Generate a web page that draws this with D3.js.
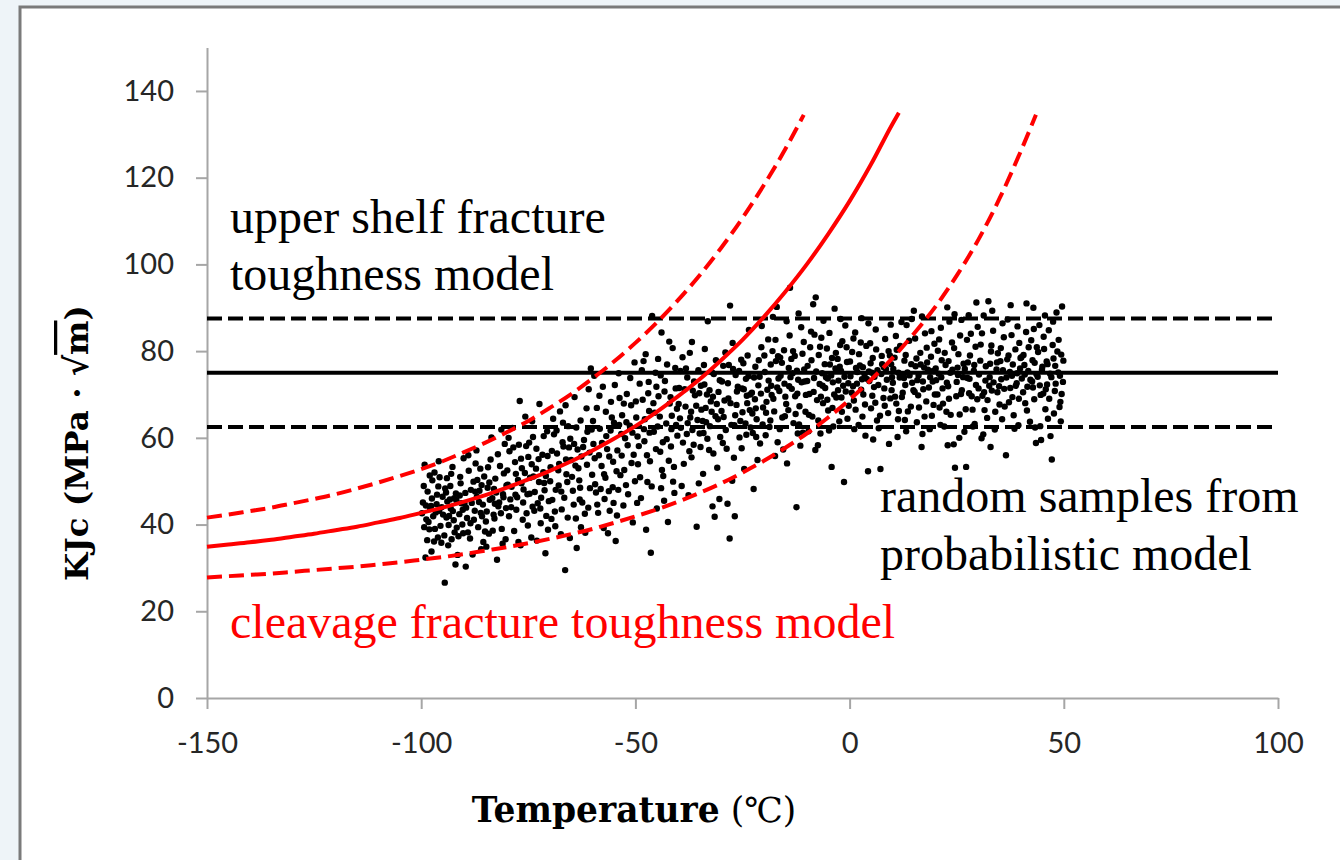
<!DOCTYPE html>
<html>
<head>
<meta charset="utf-8">
<script src="https://cdn.jsdelivr.net/npm/d3@7"></script>
<style>
  html, body { margin: 0; padding: 0; background: #eef4f8; }
  svg { display: block; }
</style>
</head>
<body>
<svg id="chart" width="1340" height="860"></svg>
<script>
// Axis ticks
const tempTicks = [-150, -100, -50, 0, 50, 100];
const kTicks = [0, 20, 40, 60, 80, 100, 120, 140];

// Upper shelf model: median and bounds (MPa·√m)
const shelfMedian = 75;
const shelfUpper = 87.5;
const shelfLower = 62.5;

// Cleavage (master curve) model: median, 95% and 5% bounds, [T, K]
const cleavageMedian = [
  [-150,34.9],[-145,35.4],[-140,35.9],[-135,36.5],[-130,37.2],[-125,37.9],[-120,38.7],[-115,39.5],
  [-110,40.5],[-105,41.5],[-100,42.7],[-95,43.9],[-90,45.3],[-85,46.8],[-80,48.5],[-75,50.4],
  [-70,52.4],[-65,54.6],[-60,57.1],[-55,59.8],[-50,62.7],[-45,66.0],[-40,69.6],[-35,73.5],
  [-30,77.9],[-25,82.6],[-20,87.9],[-15,93.7],[-10,100.0],[-5,107.0],[0,114.6],[5,123.1],
  [10,132.4],[11.5,135.0]
];
const cleavageUpper = [
  [-150,41.6],[-145,42.3],[-140,43.1],[-135,43.9],[-130,44.9],[-125,45.9],[-120,47.0],[-115,48.3],
  [-110,49.7],[-105,51.2],[-100,52.8],[-95,54.6],[-90,56.7],[-85,58.9],[-80,61.3],[-75,63.9],
  [-70,66.9],[-65,70.1],[-60,73.7],[-55,77.6],[-50,81.9],[-45,86.6],[-40,91.8],[-35,97.5],
  [-30,103.8],[-25,110.7],[-20,118.3],[-15,126.6],[-10.7,134.5]
];
const cleavageLower = [
  [-150,27.8],[-145,28.1],[-140,28.4],[-135,28.7],[-130,29.1],[-125,29.5],[-120,29.9],[-115,30.3],
  [-110,30.8],[-105,31.3],[-100,31.9],[-95,32.5],[-90,33.2],[-85,34.0],[-80,34.8],[-75,35.7],
  [-70,36.7],[-65,37.8],[-60,39.0],[-55,40.4],[-50,41.9],[-45,43.5],[-40,45.3],[-35,47.3],
  [-30,49.5],[-25,52.0],[-20,54.7],[-15,57.7],[-10,61.0],[-5,64.7],[0,68.8],[5,73.4],
  [10,78.4],[15,84.0],[20,90.2],[25,97.4],[30,105.6],[35,115.2],[40,126.2],[43.5,134.5]
];

// Random samples from the probabilistic model, [T, K]
const samples = [
  [-99.6,45.1],[-99.2,53.8],[-98.8,41.2],[-98.5,47.6],[-98.1,38.9],[-97.7,44.3],[-97.4,50.2],[-97.0,36.1],
  [-96.6,42.8],[-96.3,46.9],[-95.9,54.6],[-95.5,39.7],[-95.2,44.0],[-94.5,26.6],[-94.4,48.3],[-94.1,41.6],
  [-93.7,35.2],[-93.3,45.8],[-93.0,51.7],[-92.6,43.1],[-92.2,38.2],[-91.9,47.2],[-91.5,33.0],[-91.1,42.4],
  [-90.8,49.5],[-90.4,40.0],[-90.1,55.3],[-99.0,32.4],[-97.9,43.6],[-96.0,48.8],[-94.6,37.5],[-93.5,42.0],
  [-92.0,30.8],[-90.6,44.9],[-98.3,40.6],[-95.0,46.4],[-91.7,39.3],[-96.9,52.0],[-93.9,45.3],[-92.9,36.6],
  [-99.8,42.6],[-99.4,48.9],[-98.6,36.4],[-98.0,51.3],[-97.5,46.0],[-96.8,39.0],[-96.4,44.7],[-95.7,50.9],
  [-95.3,35.8],[-94.9,42.3],[-94.2,47.4],[-93.6,39.9],[-93.1,43.7],[-92.7,53.3],[-92.4,41.0],[-91.8,45.6],
  [-91.3,37.3],[-90.9,51.0],[-90.3,43.4],[-99.3,39.4],[-97.2,41.9],[-95.8,43.2],[-94.0,50.7],[-92.3,46.1],
  [-90.2,38.0],[-98.9,44.4],[-96.1,37.0],[-93.2,48.9],[-91.0,46.7],[-97.6,33.8],
  [-89.7,47.3],[-89.3,41.5],[-88.9,52.4],[-88.6,36.8],[-88.2,45.0],[-87.8,49.9],[-87.5,43.2],[-87.1,57.1],
  [-86.7,39.4],[-86.4,47.8],[-86.0,34.3],[-85.6,44.6],[-85.3,51.1],[-84.9,40.7],[-84.5,48.5],[-84.2,37.9],
  [-83.8,55.0],[-83.4,46.1],[-83.1,42.3],[-82.7,50.6],[-82.3,31.9],[-82.0,44.2],[-81.6,53.5],[-81.2,39.0],
  [-80.9,47.0],[-80.5,58.6],[-80.2,43.8],[-88.0,33.1],[-86.9,50.3],[-85.1,38.4],[-83.6,60.1],[-82.5,47.4],
  [-81.0,35.6],[-89.5,43.9],[-84.0,45.7],[-87.3,54.1],[-85.8,41.9],[-80.7,51.8],[-89.6,30.3],
  [-89.9,44.8],[-89.1,38.2],[-88.4,48.0],[-87.7,41.1],[-87.0,46.4],[-86.2,52.9],[-85.5,36.0],[-84.7,43.0],
  [-84.1,49.7],[-83.3,38.6],[-82.8,44.8],[-82.1,56.2],[-81.4,42.6],[-80.8,46.3],[-80.3,36.6],[-89.0,56.0],
  [-87.4,47.6],[-86.1,42.7],[-84.4,53.2],[-83.0,48.2],[-81.8,45.1],[-80.1,49.0],[-88.5,40.3],[-85.9,49.1],
  [-82.9,41.4],[-81.3,61.9],[-86.5,45.2],[-84.8,34.9],
  [-79.8,49.2],[-79.4,56.9],[-79.0,44.0],[-78.7,62.3],[-78.3,38.5],[-77.9,51.7],[-77.6,46.3],[-77.2,58.4],
  [-76.8,35.2],[-76.5,53.0],[-76.1,48.1],[-75.7,64.9],[-75.4,42.6],[-75.0,55.6],[-74.6,50.8],[-74.3,37.0],
  [-73.9,60.2],[-73.5,47.5],[-73.2,52.9],[-72.8,44.9],[-72.4,67.8],[-72.1,40.3],[-71.7,56.1],[-71.3,49.6],
  [-71.0,33.4],[-70.6,61.5],[-70.2,45.4],[-78.1,54.4],[-76.3,41.1],[-74.8,58.9],[-73.0,36.3],[-71.5,52.1],
  [-79.2,45.8],[-77.0,68.5],[-75.2,47.0],[-72.6,55.1],[-70.8,42.0],[-74.1,63.8],
  [-79.9,52.5],[-79.5,41.9],[-78.9,48.7],[-78.5,57.8],[-77.8,43.4],[-77.4,50.3],[-76.7,55.2],[-76.2,45.1],
  [-75.8,51.9],[-75.1,39.8],[-74.7,47.1],[-74.2,53.9],[-73.6,43.2],[-73.1,57.5],[-72.5,49.8],[-72.0,46.2],
  [-71.4,60.4],[-70.9,51.2],[-70.4,38.8],[-79.6,60.0],[-78.0,46.9],[-76.6,49.5],[-75.5,58.1],[-73.8,51.1],
  [-72.2,43.7],[-70.5,55.8],[-77.3,36.0],[-74.0,44.1],[-71.2,47.9],
  [-69.8,53.2],[-69.4,45.7],[-69.0,60.8],[-68.7,39.6],[-68.3,56.4],[-67.9,49.0],[-67.6,66.1],[-67.2,43.5],
  [-66.8,58.0],[-66.4,29.5],[-66.1,51.6],[-65.7,62.7],[-65.3,36.9],[-65.0,54.9],[-64.6,47.8],[-64.2,69.4],
  [-63.9,41.4],[-63.5,57.3],[-63.7,34.6],[-63.1,50.2],[-62.8,64.0],[-62.4,45.1],[-62.0,59.5],[-61.7,38.1],
  [-61.3,53.8],[-60.9,71.2],[-60.6,48.4],[-60.2,61.9],[-68.0,52.5],[-66.6,46.2],[-65.5,57.8],[-64.0,53.6],
  [-62.6,55.7],[-61.0,43.9],[-69.2,64.4],[-67.4,37.8],[-60.4,76.0],
  [-69.9,50.0],[-69.5,57.0],[-68.8,43.0],[-68.4,61.7],[-67.8,54.0],[-67.3,47.6],[-66.9,63.5],[-66.2,55.0],
  [-65.8,41.6],[-65.2,59.8],[-64.8,51.0],[-64.4,44.6],[-63.8,62.4],[-63.3,53.0],[-62.9,48.5],[-62.2,57.9],
  [-61.8,42.5],[-61.4,66.8],[-60.7,56.6],[-60.1,51.5],[-69.6,41.3],[-67.0,59.0],[-65.9,49.8],[-64.3,58.6],
  [-62.7,39.4],[-61.2,61.4],[-68.6,48.0],[-66.3,67.5],[-63.0,45.8],
  [-59.8,58.6],[-59.4,49.3],[-59.0,66.9],[-58.7,42.7],[-58.3,62.1],[-57.9,53.5],[-57.6,71.8],[-57.2,45.9],
  [-56.8,60.4],[-56.4,38.0],[-56.1,55.7],[-55.7,68.3],[-55.3,48.6],[-55.0,63.5],[-54.6,36.2],[-54.2,57.1],
  [-53.9,74.9],[-53.5,51.4],[-53.1,65.2],[-52.8,44.4],[-52.4,59.9],[-52.0,70.1],[-51.7,47.0],[-51.3,62.8],
  [-50.9,54.2],[-50.6,40.5],[-50.2,77.4],[-58.5,56.0],[-57.0,50.8],[-55.5,64.7],[-54.0,48.0],[-52.6,52.6],
  [-51.0,67.5],[-59.2,47.4],[-56.0,43.2],[-53.3,60.9],
  [-59.9,63.9],[-59.5,55.3],[-58.9,44.6],[-58.4,69.7],[-57.8,58.8],[-57.3,51.6],[-56.9,66.0],[-56.2,47.7],
  [-55.8,61.7],[-55.2,54.5],[-54.8,72.2],[-54.3,42.1],[-53.8,63.0],[-53.2,55.9],[-52.7,67.9],[-52.2,49.1],
  [-51.8,58.3],[-51.2,73.8],[-50.7,61.2],[-50.1,50.0],[-59.6,74.3],[-58.1,48.2],[-56.6,57.4],[-55.1,45.0],
  [-53.7,69.2],[-52.1,63.6],[-50.4,56.1],[-57.4,39.2],[-54.4,52.3],
  [-49.8,64.7],[-49.4,53.9],[-49.0,72.5],[-48.7,46.1],[-48.3,68.8],[-47.9,59.2],[-47.6,79.3],[-47.2,49.8],
  [-46.8,66.2],[-46.4,33.5],[-46.1,88.1],[-45.7,61.4],[-45.3,75.0],[-45.0,43.7],[-44.6,69.6],[-44.2,56.8],
  [-43.9,84.3],[-43.5,51.2],[-43.1,73.1],[-42.8,63.3],[-42.4,40.6],[-42.0,67.9],[-41.7,58.0],[-41.3,80.7],
  [-40.9,47.3],[-40.6,71.4],[-40.2,60.5],[-48.0,62.0],[-46.6,54.6],[-45.5,65.8],[-44.0,48.4],[-42.6,76.9],
  [-41.0,53.3],[-49.2,58.1],[-47.0,70.3],[-44.8,62.6],[-43.3,45.5],[-41.5,65.1],
  [-49.9,68.4],[-49.5,60.3],[-48.9,50.9],[-48.5,75.6],[-47.8,64.3],[-47.3,56.0],[-46.9,72.9],[-46.2,48.8],
  [-45.8,68.0],[-45.2,57.4],[-44.7,78.2],[-44.3,64.9],[-43.8,52.6],[-43.2,70.7],[-42.7,59.7],[-42.1,82.2],
  [-41.6,62.0],[-41.2,49.9],[-40.7,76.1],[-40.3,66.7],[-49.6,45.0],[-48.1,77.7],[-46.7,61.2],[-45.1,71.8],
  [-43.6,59.0],[-42.2,54.7],[-40.5,63.0],[-47.5,38.8],[-44.1,74.4],[-41.8,69.4],
  [-39.8,71.5],[-39.4,62.3],[-39.0,78.6],[-38.7,54.0],[-38.3,67.2],[-37.9,73.9],[-37.6,46.8],[-37.2,64.7],
  [-36.8,82.1],[-36.4,58.4],[-36.1,69.8],[-35.7,39.5],[-35.3,75.6],[-35.0,61.0],[-34.6,66.5],[-34.2,51.7],
  [-33.9,72.3],[-33.5,63.6],[-33.1,86.9],[-32.8,57.2],[-32.4,68.4],[-32.0,44.2],[-31.7,74.7],[-31.3,65.0],
  [-30.9,53.1],[-30.6,70.6],[-30.2,60.2],[-38.0,60.9],[-36.6,70.9],[-35.5,64.1],[-34.0,76.8],[-32.6,62.7],
  [-31.0,67.8],[-39.2,48.9],[-37.0,66.0],[-34.8,57.9],[-33.3,70.0],[-31.5,41.8],
  [-39.9,67.8],[-39.5,75.4],[-38.9,58.9],[-38.5,71.2],[-37.8,63.4],[-37.3,79.6],[-36.9,55.5],[-36.3,73.0],
  [-35.8,67.4],[-35.2,49.5],[-34.7,72.0],[-34.3,63.9],[-33.8,80.5],[-33.2,59.8],[-32.7,71.0],[-32.2,66.0],
  [-31.8,56.4],[-31.2,77.9],[-30.7,64.3],[-30.3,73.3],[-39.6,64.5],[-38.2,76.0],[-36.7,61.8],[-35.1,70.3],
  [-33.6,66.9],[-32.1,75.1],[-30.4,45.9],[-37.4,56.9],[-34.1,61.1],[-31.9,69.5],
  [-29.8,73.0],[-29.4,64.8],[-29.0,79.7],[-28.7,57.5],[-28.3,69.1],[-27.9,90.5],[-27.6,63.0],[-27.2,75.9],
  [-26.8,41.9],[-26.4,67.6],[-26.1,71.8],[-25.7,60.1],[-25.3,78.0],[-25.0,65.9],[-24.6,52.8],[-24.2,73.6],
  [-23.9,68.0],[-23.5,84.9],[-23.1,62.4],[-22.8,70.4],[-22.4,48.2],[-22.0,76.4],[-21.7,64.3],[-21.3,72.1],
  [-20.9,58.7],[-20.6,80.9],[-20.2,67.0],[-28.0,36.8],[-26.6,74.5],[-25.5,63.9],[-24.0,69.7],[-22.6,61.1],
  [-21.0,74.1],[-29.2,68.6],[-27.0,55.4],[-24.8,77.2],[-23.3,66.4],[-21.5,54.9],[-28.5,44.8],
  [-29.9,66.2],[-29.5,76.6],[-28.9,61.8],[-28.4,72.6],[-27.8,68.0],[-27.3,81.9],[-26.9,62.9],[-26.3,70.7],
  [-25.8,75.4],[-25.2,57.6],[-24.7,71.2],[-24.3,63.3],[-23.8,79.0],[-23.2,70.0],[-22.7,65.6],[-22.3,73.9],
  [-21.8,60.2],[-21.2,77.9],[-20.7,70.2],[-20.3,63.1],[-29.6,58.8],[-28.2,76.8],[-26.7,65.2],[-25.1,71.4],
  [-23.6,74.2],[-22.1,68.9],[-20.5,85.8],[-27.4,50.1],[-24.1,60.7],[-21.9,66.8],
  [-19.8,75.2],[-19.4,68.3],[-19.0,82.7],[-18.7,62.5],[-18.3,72.0],[-17.9,87.9],[-17.6,66.1],[-17.2,77.7],
  [-16.8,59.0],[-16.4,70.8],[-16.1,74.3],[-15.7,64.7],[-15.3,80.2],[-15.0,69.5],[-14.6,54.1],[-14.2,76.1],
  [-13.9,94.6],[-13.5,71.3],[-13.1,63.4],[-12.8,78.9],[-12.4,44.0],[-12.0,73.4],[-11.7,67.3],[-11.3,85.5],
  [-10.9,61.2],[-10.6,75.8],[-10.2,69.9],[-18.0,80.0],[-16.6,73.7],[-15.5,57.3],[-14.0,83.6],[-12.6,65.5],
  [-11.0,79.4],[-19.2,71.1],[-17.0,90.2],[-14.8,67.8],[-13.3,74.9],[-11.5,58.2],[-18.5,64.0],[-16.2,78.5],
  [-12.2,70.2],
  [-19.9,79.0],[-19.5,65.8],[-18.9,73.2],[-18.4,76.9],[-17.8,69.0],[-17.3,82.6],[-16.9,71.6],[-16.3,62.0],
  [-15.8,77.3],[-15.2,72.5],[-14.7,86.9],[-14.3,66.4],[-13.8,74.0],[-13.2,80.0],[-12.7,69.6],[-12.3,75.5],
  [-11.8,63.1],[-11.2,72.8],[-10.7,82.1],[-10.3,66.0],[-19.6,60.6],[-18.2,69.9],[-16.7,78.8],[-15.1,65.0],
  [-13.6,78.2],[-12.1,61.0],[-10.5,73.0],[-17.4,55.8],[-14.1,71.9],[-11.9,88.7],
  [-9.8,76.6],[-9.4,70.1],[-9.0,84.5],[-8.7,64.9],[-8.3,73.8],[-7.9,92.4],[-7.6,68.7],[-7.2,79.1],
  [-6.8,61.0],[-6.4,74.9],[-6.1,87.0],[-5.7,71.5],[-5.3,80.6],[-5.0,66.3],[-4.6,76.9],[-4.2,53.3],
  [-3.9,72.8],[-3.5,89.8],[-3.1,69.3],[-2.8,78.2],[-2.4,63.8],[-2.0,75.4],[-1.7,82.3],[-1.3,49.8],
  [-0.9,70.7],[-0.6,77.5],[-0.2,67.4],[-8.0,57.2],[-6.6,83.1],[-5.5,74.0],[-4.0,66.9],[-2.6,73.2],
  [-1.0,85.9],[-9.2,80.9],[-7.0,72.4],[-4.8,61.7],[-3.3,76.0],[-1.5,72.0],[-8.5,90.8],[-6.2,68.0],
  [-2.2,81.4],
  [-9.9,73.1],[-9.5,65.3],[-8.9,77.9],[-8.4,70.6],[-7.8,75.3],[-7.3,64.0],[-6.9,81.0],[-6.3,72.0],
  [-5.8,77.0],[-5.2,68.8],[-4.7,84.2],[-4.3,74.4],[-3.8,62.6],[-3.2,79.6],[-2.7,71.0],[-2.3,76.4],
  [-1.8,66.0],[-1.2,74.1],[-0.7,80.9],[-0.3,72.6],[-9.6,61.5],[-8.2,83.8],[-6.7,69.5],[-5.1,73.7],
  [-3.6,70.0],[-2.1,87.4],[-0.5,64.4],[-7.4,58.3],[-4.1,78.4],[-1.9,69.3],
  [0.2,74.2],[0.6,79.8],[1.0,68.6],[1.3,84.3],[1.7,72.5],[2.1,63.0],[2.4,76.7],[2.8,87.6],
  [3.2,70.0],[3.5,74.6],[3.9,81.2],[4.3,52.3],[4.6,73.1],[5.0,66.8],[5.4,78.4],[5.7,71.7],
  [6.1,85.0],[6.5,75.6],[6.8,62.2],[7.2,52.8],[7.6,77.0],[7.9,69.2],[8.3,82.8],[8.7,73.4],
  [9.0,65.7],[9.4,79.0],[9.8,71.0],[1.5,76.1],[3.0,64.9],[4.5,75.3],[6.0,68.1],[7.4,74.7],
  [9.2,58.6],[0.8,71.9],[2.6,82.0],[5.2,75.0],[8.0,76.3],[9.6,86.1],[3.7,60.5],
  [0.1,77.6],[0.5,70.4],[0.9,82.9],[1.4,66.5],[1.8,75.2],[2.2,79.3],[2.7,71.1],[3.1,76.3],
  [3.6,67.7],[4.0,73.6],[4.4,86.4],[4.9,77.2],[5.3,69.7],[5.8,74.1],[6.2,80.4],[6.7,72.2],
  [7.1,65.1],[7.5,78.9],[8.1,71.4],[8.5,75.9],[9.1,80.0],[9.5,69.1],[9.9,74.0],[1.1,62.0],
  [2.9,73.5],[4.8,81.8],[6.4,64.0],[8.2,67.4],[9.7,77.0],[5.5,59.6],
  [10.2,75.9],[10.6,69.5],[11.0,80.3],[11.3,64.3],[11.7,73.9],[12.1,86.7],[12.4,70.4],[12.8,77.8],
  [13.2,61.5],[13.5,75.1],[13.9,82.4],[14.3,67.2],[14.6,72.7],[15.0,89.3],[15.4,76.5],[15.7,63.6],
  [16.1,74.4],[16.5,79.6],[16.8,57.9],[17.2,71.2],[17.6,84.1],[17.9,68.4],[18.3,75.7],[18.7,62.0],
  [19.0,78.7],[19.4,73.0],[19.8,81.7],[11.5,66.2],[13.0,72.2],[14.5,87.4],[16.0,69.8],[17.4,76.2],
  [19.2,65.1],[10.8,83.5],[12.6,74.3],[15.2,70.6],[18.0,80.8],[19.6,67.6],
  [10.1,72.7],[10.5,78.5],[10.9,67.9],[11.4,75.0],[11.8,81.2],[12.2,69.4],[12.7,73.8],[13.1,79.1],
  [13.6,66.1],[14.0,74.4],[14.4,77.0],[14.9,71.0],[15.3,82.9],[15.8,73.3],[16.2,67.0],[16.6,76.9],
  [17.1,73.0],[17.5,64.9],[18.1,77.4],[18.5,71.6],[19.1,84.6],[19.5,75.4],[19.9,70.0],[11.2,60.2],
  [13.3,86.0],[15.6,78.3],[17.0,60.9],[18.8,74.0],[12.9,64.1],[16.9,88.0],
  [20.2,73.3],[20.6,80.1],[21.0,67.0],[21.3,85.4],[21.7,71.4],[22.1,62.6],[22.4,76.8],[22.8,90.1],
  [23.2,69.0],[23.5,75.0],[23.9,82.0],[24.3,58.5],[24.6,53.1],[25.0,72.9],[25.4,79.3],[25.7,65.4],
  [26.1,87.2],[26.5,74.0],[26.8,61.4],[27.2,53.3],[27.6,77.4],[27.9,70.3],[28.3,84.0],[28.7,66.5],
  [29.0,75.5],[29.4,81.0],[29.8,68.9],[21.5,77.9],[23.0,71.9],[24.5,88.5],[26.0,70.1],[27.4,82.6],
  [29.2,63.2],[20.8,74.8],[22.6,66.0],[25.2,76.2],[28.0,73.6],[29.6,91.2],
  [20.1,76.0],[20.5,70.0],[20.9,82.7],[21.4,74.0],[21.8,67.9],[22.2,79.6],[22.7,72.7],[23.1,77.7],
  [23.6,65.3],[24.0,75.7],[24.4,80.7],[24.9,69.6],[25.3,74.5],[25.8,83.6],[26.2,71.0],[26.6,77.1],
  [27.1,66.6],[27.5,73.8],[28.1,79.0],[28.5,69.6],[29.1,76.8],[29.5,72.2],[29.9,85.6],[21.2,63.0],
  [23.3,86.8],[25.6,60.0],[26.9,75.9],[28.8,62.6],[22.9,58.3],[27.8,88.3],
  [30.2,74.6],[30.6,81.5],[31.0,69.7],[31.3,88.2],[31.7,73.2],[32.1,64.6],[32.4,91.5],[32.8,77.1],
  [33.2,70.9],[33.5,84.7],[33.9,61.9],[34.3,75.8],[34.6,79.5],[35.0,67.7],[35.4,73.5],[35.7,86.4],
  [36.1,71.3],[36.5,56.0],[36.8,78.1],[37.2,68.2],[37.6,90.6],[37.9,74.3],[38.3,65.2],[38.7,80.4],
  [39.0,72.6],[39.4,62.9],[39.8,76.0],[31.5,66.4],[33.0,79.9],[34.5,70.5],[36.0,83.2],[37.4,75.2],
  [39.2,85.7],[30.8,59.9],[32.6,72.0],[35.2,77.7],[38.0,69.4],[39.6,81.9],
  [30.1,71.4],[30.5,77.8],[30.9,84.1],[31.4,70.5],[31.8,76.5],[32.2,68.7],[32.7,74.0],[33.1,81.3],
  [33.6,72.8],[34.0,66.0],[34.4,77.4],[34.9,71.9],[35.3,80.7],[35.8,75.6],[36.2,67.2],[36.6,73.9],
  [37.1,79.0],[37.5,71.5],[38.1,76.9],[38.5,62.1],[39.1,74.9],[39.5,69.0],[39.9,78.4],[31.2,60.8],
  [33.3,89.3],[35.6,64.3],[36.9,87.3],[38.8,72.0],[32.9,57.9],[37.8,83.7],
  [40.2,73.7],[40.6,79.1],[41.0,68.0],[41.3,91.0],[41.7,75.4],[42.1,63.7],[42.4,82.5],[42.8,71.6],
  [43.2,77.3],[43.5,58.8],[43.9,74.1],[44.3,86.0],[44.6,69.9],[45.0,76.4],[45.4,80.5],[45.7,66.6],
  [46.1,72.3],[46.5,84.8],[46.8,74.8],[47.2,55.0],[47.6,78.3],[47.9,70.8],[48.3,88.9],[48.7,75.1],
  [49.0,67.1],[49.4,79.2],[49.8,72.9],[41.5,71.8],[43.0,85.1],[44.5,62.7],[46.0,77.6],[47.4,81.4],
  [49.2,68.3],[40.8,76.8],[42.6,73.0],[45.2,70.2],[48.0,76.6],[49.6,90.3],[43.7,80.9],[46.3,64.4],
  [40.1,78.6],[40.5,70.5],[40.9,74.6],[41.4,66.3],[41.8,80.9],[42.2,73.4],[42.7,77.9],[43.1,68.9],
  [43.6,74.7],[44.0,79.8],[44.4,72.1],[44.9,75.7],[45.3,83.3],[45.8,71.2],[46.2,77.0],[46.6,69.0],
  [47.1,74.0],[47.5,86.8],[48.1,72.5],[48.5,79.9],[49.1,74.3],[49.5,70.1],[49.9,77.8],[41.2,84.4],
  [43.3,62.4],[45.6,88.2],[46.9,60.4],[48.8,82.6],[42.9,90.0],[47.7,65.6],[44.7,59.5],[49.3,63.8]
];

const svg = d3.select("#chart");

// Page frame
svg.append("rect").attr("x", 0).attr("y", 0).attr("width", 1340).attr("height", 860).attr("fill", "#eef4f8");
svg.append("rect").attr("x", 20).attr("y", 7).attr("width", 1330).attr("height", 870)
  .attr("fill", "#ffffff").attr("stroke", "#7a7a7a").attr("stroke-width", 3);

const x = d3.scaleLinear().domain([-150, 100]).range([207, 1278]);
const y = d3.scaleLinear().domain([0, 150]).range([698, 47.6]);

const axisColor = "#a6a6a6";
const tickFont = "Lato, 'Open Sans', sans-serif";

// Y axis
const yAxis = svg.append("g").attr("transform", `translate(${x(-150)},0)`)
  .call(d3.axisLeft(y).tickValues(kTicks).tickSize(11).tickPadding(22).tickSizeOuter(0));
// X axis
const xAxis = svg.append("g").attr("transform", `translate(0,${y(0)})`)
  .call(d3.axisBottom(x).tickValues(tempTicks).tickSize(11).tickPadding(23).tickSizeOuter(0));

[yAxis, xAxis].forEach(g => {
  g.select(".domain").attr("stroke", axisColor).attr("stroke-width", 2);
  g.selectAll(".tick line").attr("stroke", axisColor).attr("stroke-width", 2);
  g.selectAll(".tick text").attr("fill", "#262626").style("font-family", tickFont).style("font-size", "29px");
});
xAxis.selectAll(".tick text").text(d => d < 0 ? "-" + Math.abs(d) : d);

// Upper shelf lines
const shelf = [
  { k: shelfUpper, dash: "15,6" },
  { k: shelfMedian, dash: null },
  { k: shelfLower, dash: "15,6" }
];
svg.append("g").selectAll("line").data(shelf).join("line")
  .attr("x1", x(-150)).attr("x2", x(100))
  .attr("y1", d => y(d.k)).attr("y2", d => y(d.k))
  .attr("stroke", "#000").attr("stroke-width", 4)
  .attr("stroke-dasharray", d => d.dash);

// Sample points
svg.append("g").selectAll("circle").data(samples).join("circle")
  .attr("cx", d => x(d[0])).attr("cy", d => y(d[1])).attr("r", 3.2).attr("fill", "#000");

// Cleavage curves
const line = d3.line().x(d => x(d[0])).y(d => y(d[1])).curve(d3.curveMonotoneX);
const curves = [
  { data: cleavageUpper, dash: "15,7" },
  { data: cleavageMedian, dash: null },
  { data: cleavageLower, dash: "15,7" }
];
svg.append("g").selectAll("path").data(curves).join("path")
  .attr("d", d => line(d.data))
  .attr("fill", "none").attr("stroke", "#ff0000").attr("stroke-width", 4)
  .attr("stroke-dasharray", d => d.dash);

// Annotations
const serif = "'Liberation Serif', 'Times New Roman', serif";
const notes = [
  { t: "upper shelf fracture", x: 230, y: 233, c: "#000" },
  { t: "toughness model", x: 230, y: 290, c: "#000" },
  { t: "random samples from", x: 880, y: 512, c: "#000" },
  { t: "probabilistic model", x: 880, y: 570, c: "#000" },
  { t: "cleavage fracture toughness model", x: 230, y: 638, c: "#ff0000" }
];
svg.append("g").selectAll("text").data(notes).join("text")
  .attr("x", d => d.x).attr("y", d => d.y).attr("fill", d => d.c)
  .style("font-family", serif).style("font-size", "48px").text(d => d.t);

// Axis titles
const xt = svg.append("text").attr("x", 634).attr("y", 822).attr("text-anchor", "middle")
  .style("font-family", "'DejaVu Serif', serif").style("font-size", "34.5px").attr("fill", "#000");
xt.append("tspan").style("font-weight", "bold").text("Temperature");
xt.append("tspan").text(" (\u2103)");

const yt = svg.append("text").attr("transform", "translate(88,443) rotate(-90)").attr("text-anchor", "middle")
  .style("font-family", "'DejaVu Serif', serif").style("font-size", "32.5px")
  .style("font-weight", "bold").attr("fill", "#000");
yt.append("tspan").text("KJc (MPa \u00B7 \u221A");
yt.append("tspan").style("text-decoration", "overline").text("m");
yt.append("tspan").text(")");
</script>
</body>
</html>
